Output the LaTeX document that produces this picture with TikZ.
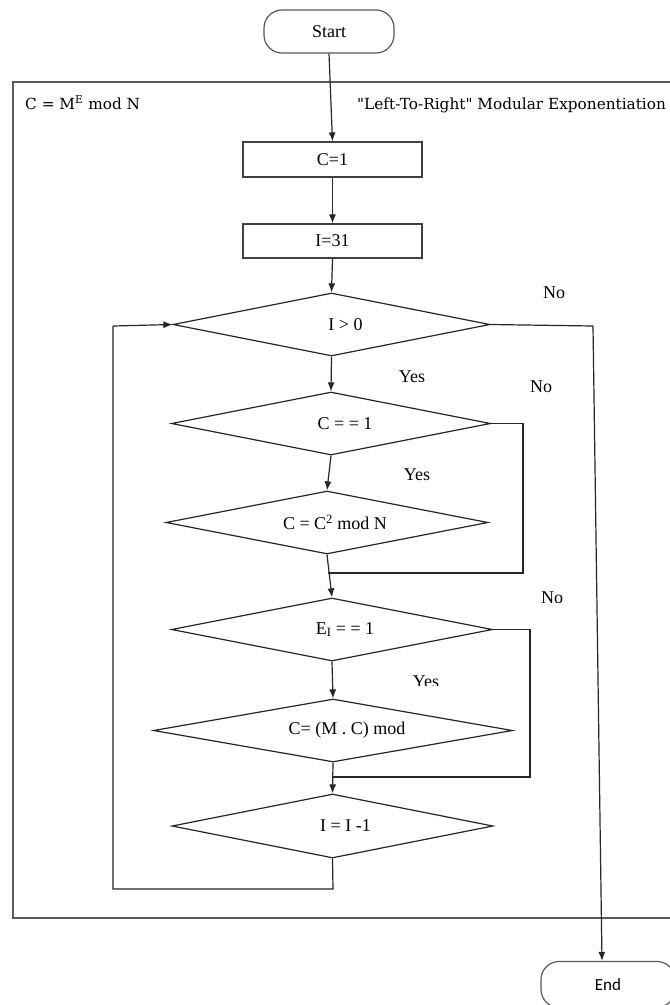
\documentclass[tikz,border=0pt]{standalone}
\usepackage{fontspec}
\setmainfont{Liberation Serif}
\newfontfamily\dvs{DejaVu Serif}
\newfontfamily\carl{Carlito}
\usetikzlibrary{shapes.geometric,arrows.meta,calc}
\newcommand{\tnr}{\fontsize{18}{21}\selectfont}
\begin{document}
\begin{tikzpicture}[x=1pt,y=-1pt,
  ln/.style={draw=black!85, line width=1.2pt},
  arr/.style={ln, -{Latex[length=9pt,width=7pt]}},
  frame/.style={draw=black!65, line width=1.2pt},
  procbox/.style={rectangle, draw=black!75, line width=1.2pt, minimum width=179pt, minimum height=35pt, inner sep=0pt, font=\tnr},
  dia/.style={diamond, draw=black!85, line width=1.2pt, inner sep=0pt},
  term/.style={rectangle, rounded corners=18pt, draw=black!65, line width=1.2pt, inner sep=0pt},
  lbl/.style={font=\tnr, inner sep=0pt},
  hdr/.style={font=\dvs\fontsize{15.3}{18}\selectfont, inner sep=0pt, anchor=base west}
]
\clip (0,0) rectangle (670,1005);
\fill[white] (0,0) rectangle (670,1005);

% outer frame
\draw[frame] (690,82) -- (13,82) -- (13,918) -- (690,918);
\node[hdr] (formula) at (25,109) {C = M\textsuperscript{E} mod N};
\node[hdr] (title) at (357,109.5) {"Left-To-Right" Modular Exponentiation};

% nodes
\node[term, minimum width=130pt, minimum height=43pt, font=\tnr] (start) at (329,31.5) {Start};
\node[procbox] (c1) at (332.5,159.5) {C=1};
\node[procbox, minimum height=34pt] (i31) at (332.5,241) {I=31};

\node[dia, minimum width=317pt, minimum height=63pt] (d1) at (331.5,324.5) {};
\node[lbl] (t1) at ([xshift=14pt]d1.center) {I > 0};

\node[dia, minimum width=319pt, minimum height=63pt] (d2) at (331,423.5) {};
\node[lbl] (t2) at ([xshift=14pt]d2.center) {C = = 1};

\node[dia, minimum width=322pt, minimum height=63pt] (d3) at (327,522.5) {};
\node[lbl] (t3) at ([xshift=8pt]d3.center) {C = C\textsuperscript{2} mod N};

\node[dia, minimum width=321pt, minimum height=63pt] (d4) at (332,629.5) {};
\node[lbl] (t4) at ([xshift=13pt]d4.center) {E\textsubscript{I} = = 1};

\node[dia, minimum width=359pt, minimum height=63pt] (d5) at (333,730.5) {};
\node[lbl] (t5) at ([xshift=14pt]d5.center) {C= (M . C) mod};

\node[dia, minimum width=321pt, minimum height=64pt] (d6) at (332.5,826) {};
\node[lbl] (t6) at ([xshift=13pt]d6.center) {I = I -1};

\node[term, minimum width=134pt, minimum height=46pt, font=\carl\fontsize{17}{20}\selectfont] (endbox) at (608,984.5) {End};

% labels
\node[lbl] (no1) at (554,293) {No};
\node[lbl] (yes1) at (412,377) {Yes};
\node[lbl] (no2) at (541,387) {No};
\node[lbl] (yes2) at (417,475) {Yes};
\node[lbl] (no3) at (552,598) {No};
\begin{scope}
\clip (380,660) rectangle (470,685.5);
\node[lbl, anchor=base] (yes3) at (426,687) {Yes};
\end{scope}

% connectors
\coordinate (m1) at (328,573);
\coordinate (m2) at (333,777);
\coordinate (nocorner) at (593,326);
\coordinate (loopa) at (333,889);
\coordinate (loopb) at (113,889);
\coordinate (loopc) at (113,326);

\draw[arr] (start.south) -- (c1.north);
\draw[arr] (c1.south) -- (i31.north);
\draw[arr] (i31.south) -- (d1.north);
\draw[arr] (d1.south) -- (d2.north);
\draw[ln] (d1.east) -- (nocorner);
\draw[arr] (nocorner) -- ($(endbox.north)+(-6,0)$);
\draw[arr] (d2.south) -- (d3.north);
\draw[ln] (d2.east) -- (523,423.5) |- (m1);
\draw[arr] (d3.south) -- (d4.north);
\draw[ln] (d4.east) -- (530,629.5) |- (m2);
\draw[arr] (d4.south) -- (d5.north);
\draw[arr] (d5.south) -- (d6.north);
\draw[ln] (d6.south) -- (loopa) -- (loopb) -- (loopc);
\draw[arr] (loopc) -- (d1.west);
\end{tikzpicture}
\end{document}
